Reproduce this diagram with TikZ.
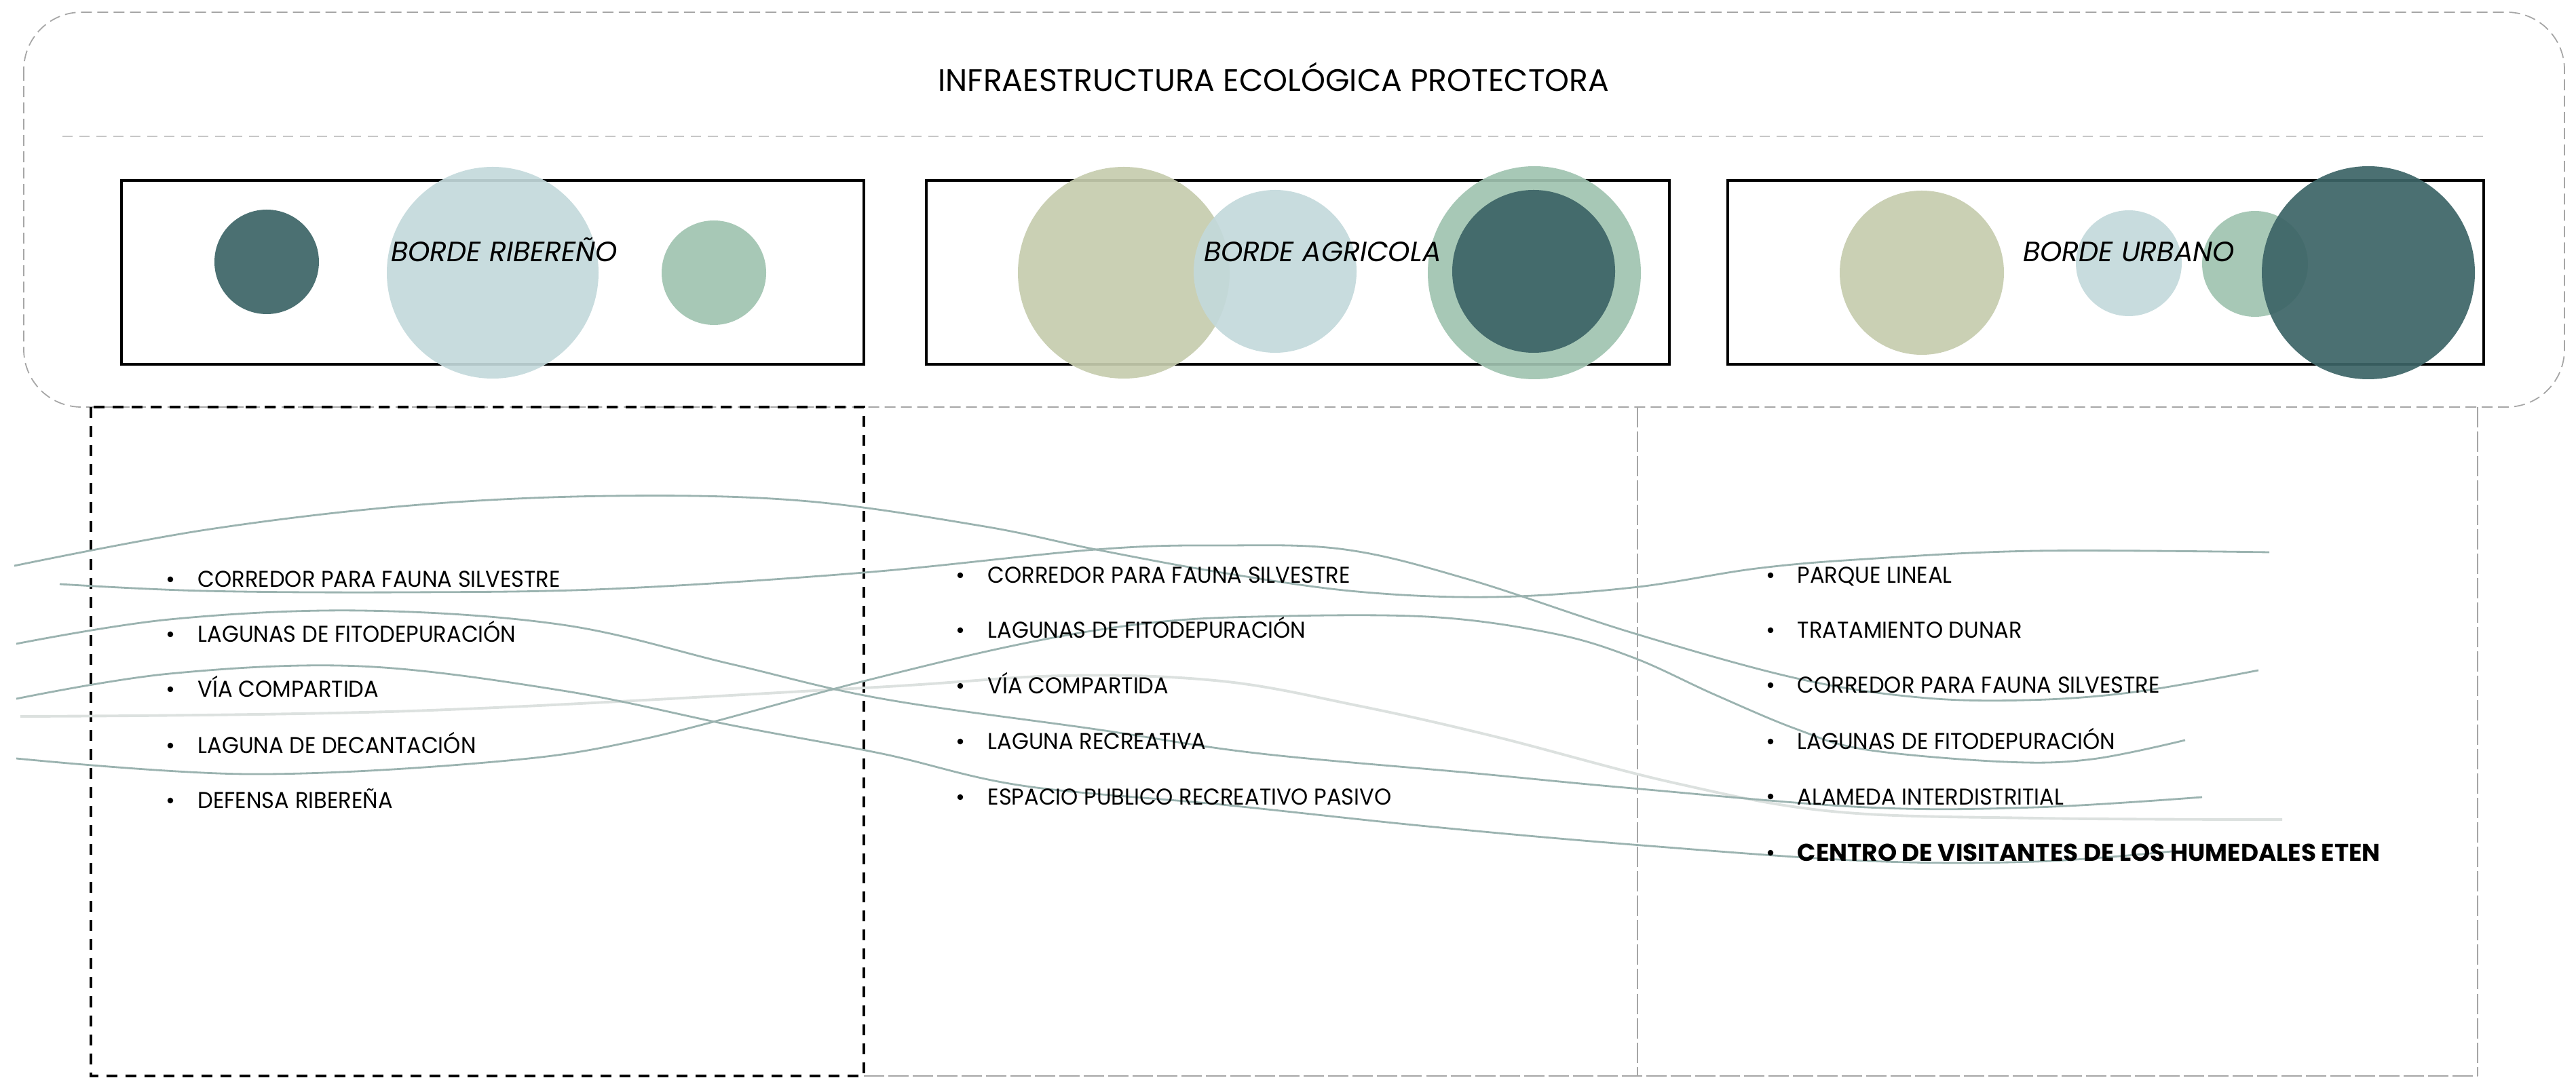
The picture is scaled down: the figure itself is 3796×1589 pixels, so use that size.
\documentclass[tikz,border=0pt]{standalone}
\usepackage{fontspec}
\setmainfont{Poppins}
\newfontfamily\listfont{Poppins}[FakeStretch=0.95]
\definecolor{cTeal}{HTML}{3C6466}
\definecolor{cBlue}{HTML}{C3D9DB}
\definecolor{cSage}{HTML}{A0C3B0}
\definecolor{cKhaki}{HTML}{C6CCAE}
\definecolor{cFlow}{HTML}{9BB3B0}
\definecolor{cFaint}{HTML}{DCE1DF}
\tikzset{
  outerbox/.style={draw=black!35, line width=0.5pt, dash pattern=on 0.16cm off 0.08cm, rounded corners=0.85cm},
  sepline/.style={draw=black!22, line width=0.5pt, dash pattern=on 0.15cm off 0.1cm},
  zonebox/.style={draw=black, line width=0.9pt},
  colblack/.style={draw=black, line width=1pt, dash pattern=on 0.16cm off 0.12cm},
  colgrey/.style={draw=black!35, line width=0.4pt, dash pattern=on 0.3cm off 0.06cm},
  blob/.style={fill opacity=0.92},
  item/.style={anchor=base west, inner sep=0pt, font=\listfont\fontsize{9.6}{11}\selectfont},
  bolditem/.style={anchor=base west, inner sep=0pt, font=\fontsize{10.2}{12}\selectfont\bfseries},
  bul/.style={circle, fill=black, inner sep=0pt, minimum size=0.085cm},
  zonelabel/.style={anchor=base, inner sep=0pt, font=\fontsize{11.7}{14}\selectfont\itshape},
  titlelabel/.style={anchor=base, inner sep=0pt, font=\fontsize{13}{16}\selectfont},
  flow/.style={draw=cFlow, line width=0.8pt},
  faintflow/.style={draw=cFaint, line width=1.1pt}
}
\begin{document}
\begin{tikzpicture}[x=0.01cm,y=-0.01cm]
\useasboundingbox (0,0) rectangle (3796,1589);
% outer rounded frame
\draw[outerbox] (35,18) rectangle (3779,600);
\draw[sepline] (92,201) -- (3661,201);
\node[titlelabel] (title) at (1877,135) {INFRAESTRUCTURA ECOLÓGICA PROTECTORA};
% zone boxes
\draw[zonebox] (179,266) rectangle (1273,537);
\draw[zonebox] (1365,266) rectangle (2460,537);
\draw[zonebox] (2546,266) rectangle (3660,537);
% box 1 circles
\fill[cTeal, blob] (393,386) circle[radius=77];
\fill[cBlue, blob] (726,402) circle[radius=156];
\fill[cSage, blob] (1052,402) circle[radius=77];
% box 2 circles
\fill[cKhaki, blob] (1656,402) circle[radius=156];
\fill[cBlue, blob] (1879,400) circle[radius=120];
\fill[cSage, blob] (2261,402) circle[radius=157];
\fill[cTeal, blob] (2260,400) circle[radius=120];
% box 3 circles
\fill[cKhaki, blob] (2832,402) circle[radius=121];
\fill[cBlue, blob] (3137,388) circle[radius=78];
\fill[cSage, blob] (3323,389) circle[radius=78];
\fill[cTeal, blob] (3490,402) circle[radius=157];
\node[zonelabel] (z1) at (743,386) {BORDE RIBEREÑO};
\node[zonelabel] (z2) at (1949,386) {BORDE AGRICOLA};
\node[zonelabel] (z3) at (3137,386) {BORDE URBANO};
% lower columns
\draw[colgrey] (2413,600) -- (2413,1586);
\draw[colgrey] (3651,600) -- (3651,1586);
\draw[colgrey] (1273,1586) -- (3651,1586);
\draw[colblack] (134,600) rectangle (1273,1586);
% flow curves
\draw[faintflow] plot[smooth, tension=0.6] coordinates {(30,1056) (606,1048) (1273,1014) (1567,996) (1800,1004) (2000,1040) (2200,1085) (2467,1154) (2700,1196) (3000,1206) (3363,1208)};
\draw[flow] plot[smooth, tension=0.6] coordinates {(21,834) (303,781) (606,745) (900,731) (1180,738) (1445,775) (1615,810) (1800,844) (2000,872) (2200,880) (2406,866) (2588,838) (2750,824) (3000,812) (3344,814)};
\draw[flow] plot[smooth, tension=0.6] coordinates {(88,861) (300,871) (600,873) (900,868) (1273,844) (1615,810) (1800,804) (1982,810) (2164,854) (2406,933) (2648,1000) (2828,1028) (2987,1032) (3146,1020) (3328,988)};
\draw[flow] plot[smooth, tension=0.6] coordinates {(24,949) (250,913) (531,900) (829,921) (1078,979) (1300,1030) (1615,1075) (1850,1110) (2164,1139) (2406,1162) (2750,1190) (3000,1190) (3245,1175)};
\draw[flow] plot[smooth, tension=0.6] coordinates {(24,1030) (250,993) (531,982) (829,1018) (1078,1069) (1300,1111) (1506,1158) (1800,1186) (2103,1218) (2406,1245) (2750,1269) (3000,1270) (3200,1255)};
\draw[flow] plot[smooth, tension=0.6] coordinates {(24,1118) (364,1141) (727,1123) (950,1089) (1273,1004) (1506,949) (1688,919) (1850,909) (2103,909) (2285,933) (2406,969) (2527,1024) (2648,1075) (2750,1105) (2955,1123) (3083,1119) (3220,1091)};
% left column items
\node[bul] (lb1) at (251,854) {}; \node[item] (l1) at (291,866) {CORREDOR PARA FAUNA SILVESTRE};
\node[bul] (lb2) at (251,935) {}; \node[item] (l2) at (291,947) {LAGUNAS DE FITODEPURACIÓN};
\node[bul] (lb3) at (251,1016) {}; \node[item] (l3) at (291,1028) {VÍA COMPARTIDA};
\node[bul] (lb4) at (251,1099) {}; \node[item] (l4) at (291,1111) {LAGUNA DE DECANTACIÓN};
\node[bul] (lb5) at (251,1180) {}; \node[item] (l5) at (291,1192) {DEFENSA RIBEREÑA};
% middle column items
\node[bul] (mb1) at (1415,848) {}; \node[item] (m1) at (1455,860) {CORREDOR PARA FAUNA SILVESTRE};
\node[bul] (mb2) at (1415,929) {}; \node[item] (m2) at (1455,941) {LAGUNAS DE FITODEPURACIÓN};
\node[bul] (mb3) at (1415,1011) {}; \node[item] (m3) at (1455,1023) {VÍA COMPARTIDA};
\node[bul] (mb4) at (1415,1093) {}; \node[item] (m4) at (1455,1105) {LAGUNA RECREATIVA};
\node[bul] (mb5) at (1415,1175) {}; \node[item] (m5) at (1455,1187) {ESPACIO PUBLICO RECREATIVO PASIVO};
% right column items
\node[bul] (rb1) at (2609,848) {}; \node[item] (r1) at (2648,860) {PARQUE LINEAL};
\node[bul] (rb2) at (2609,929) {}; \node[item] (r2) at (2648,941) {TRATAMIENTO DUNAR};
\node[bul] (rb3) at (2609,1010) {}; \node[item] (r3) at (2648,1022) {CORREDOR PARA FAUNA SILVESTRE};
\node[bul] (rb4) at (2609,1093) {}; \node[item] (r4) at (2648,1105) {LAGUNAS DE FITODEPURACIÓN};
\node[bul] (rb5) at (2609,1174) {}; \node[item] (r5) at (2648,1186) {ALAMEDA INTERDISTRITIAL};
\node[bul] (rb6) at (2609,1257) {}; \node[bolditem] (r6) at (2648,1269) {CENTRO DE VISITANTES DE LOS HUMEDALES ETEN};
\end{tikzpicture}
\end{document}
